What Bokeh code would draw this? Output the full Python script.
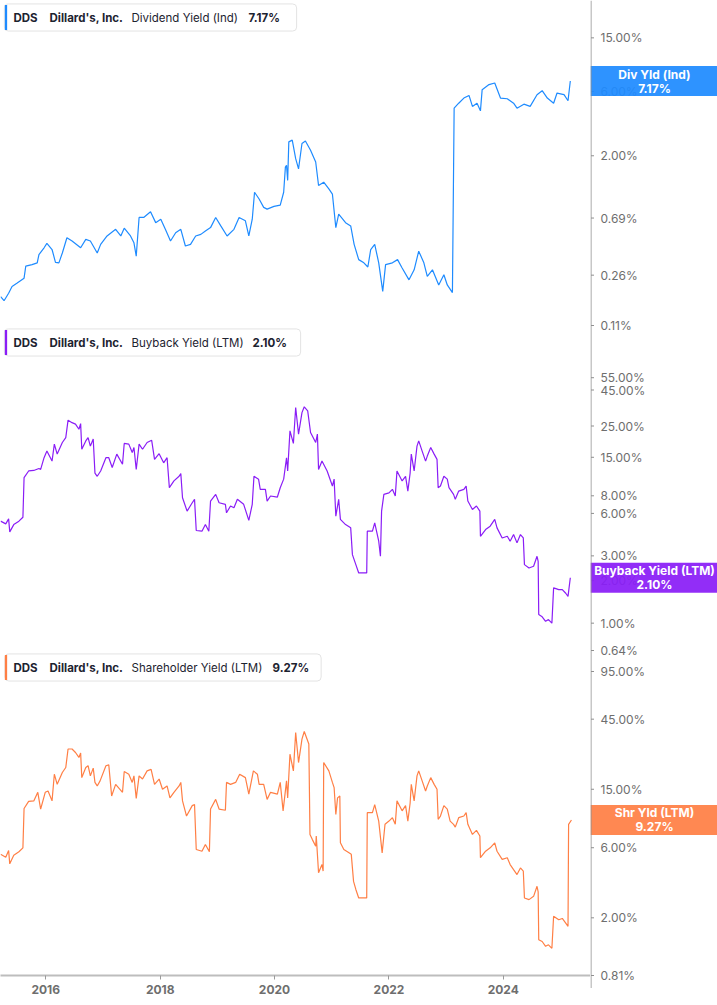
import math
import pandas as pd
from bokeh.plotting import figure
from bokeh.models import (Range1d, FixedTicker, Span, Label, DatetimeTickFormatter,
                          ColumnDataSource, LogScale)
from bokeh.core.properties import value
from bokeh.layouts import column, row
from bokeh.embed import file_html
from bokeh.resources import INLINE

# ---------------- data (decimal years, percent values) ----------------
div_years = [
    2015.21, 2015.27, 2015.35, 2015.41, 2015.50, 2015.62, 2015.65, 2015.76, 2015.85, 2015.88,
    2015.97, 2016.02, 2016.11, 2016.17, 2016.23, 2016.29, 2016.37, 2016.46, 2016.61, 2016.70,
    2016.78, 2016.90, 2016.96, 2017.07, 2017.22, 2017.31, 2017.37, 2017.48, 2017.54, 2017.58,
    2017.63, 2017.71, 2017.83, 2017.92, 2018.01, 2018.09, 2018.18, 2018.27, 2018.36, 2018.44,
    2018.53, 2018.62, 2018.71, 2018.79, 2018.88, 2018.97, 2019.06, 2019.17, 2019.29, 2019.38,
    2019.49, 2019.55, 2019.61, 2019.65, 2019.73, 2019.81, 2019.87, 2019.99, 2020.10, 2020.16,
    2020.19, 2020.21, 2020.23, 2020.25, 2020.31, 2020.37, 2020.42, 2020.48, 2020.54, 2020.63,
    2020.72, 2020.77, 2020.86, 2020.95, 2021.01, 2021.07, 2021.12, 2021.24, 2021.33, 2021.39,
    2021.47, 2021.56, 2021.63, 2021.68, 2021.75, 2021.82, 2021.89, 2021.94, 2022.06, 2022.15,
    2022.23, 2022.35, 2022.44, 2022.52, 2022.61, 2022.67, 2022.76, 2022.87, 2022.96, 2023.02,
    2023.11, 2023.14, 2023.22, 2023.31, 2023.40, 2023.46, 2023.54, 2023.60, 2023.63, 2023.75,
    2023.85, 2023.95, 2024.07, 2024.18, 2024.24, 2024.36, 2024.47, 2024.59, 2024.68, 2024.77,
    2024.88, 2024.94, 2025.06, 2025.13, 2025.17]
div_values = [
    0.180, 0.168, 0.191, 0.214, 0.227, 0.247, 0.303, 0.311, 0.321, 0.370,
    0.415, 0.447, 0.403, 0.324, 0.321, 0.380, 0.493, 0.466, 0.415, 0.479,
    0.466, 0.380, 0.440, 0.508, 0.569, 0.508, 0.580, 0.508, 0.452, 0.360,
    0.697, 0.697, 0.768, 0.638, 0.676, 0.569, 0.466, 0.537, 0.569, 0.428,
    0.440, 0.508, 0.522, 0.553, 0.586, 0.697, 0.603, 0.508, 0.569, 0.697,
    0.658, 0.508, 0.676, 1.072, 0.955, 0.828, 0.804, 0.842, 0.860, 1.072,
    1.648, 1.698, 1.313, 2.536, 2.613, 1.902, 1.600, 2.466, 2.571, 2.199,
    1.798, 1.203, 1.274, 1.135, 1.040, 0.586, 0.737, 0.638, 0.603, 0.440,
    0.339, 0.321, 0.299, 0.403, 0.440, 0.321, 0.197, 0.311, 0.321, 0.339,
    0.294, 0.240, 0.285, 0.392, 0.321, 0.255, 0.285, 0.220, 0.262, 0.220,
    0.193, 4.51, 4.91, 5.36, 5.61, 4.65, 4.91, 4.31, 6.19, 6.75,
    6.94, 5.36, 5.30, 4.91, 4.51, 4.83, 4.65, 5.68, 6.08, 5.36,
    4.91, 5.84, 5.68, 5.12, 7.17]

bb_years = [
    2015.21, 2015.30, 2015.35, 2015.37, 2015.44, 2015.53, 2015.60, 2015.62, 2015.70, 2015.79,
    2015.88, 2015.91, 2015.97, 2016.02, 2016.11, 2016.15, 2016.20, 2016.29, 2016.35, 2016.39,
    2016.46, 2016.52, 2016.58, 2016.61, 2016.63, 2016.70, 2016.74, 2016.78, 2016.83, 2016.86,
    2016.90, 2016.96, 2017.05, 2017.10, 2017.16, 2017.24, 2017.34, 2017.37, 2017.45, 2017.51,
    2017.54, 2017.58, 2017.63, 2017.69, 2017.77, 2017.85, 2017.90, 2017.98, 2018.06, 2018.12,
    2018.16, 2018.24, 2018.33, 2018.36, 2018.39, 2018.47, 2018.56, 2018.60, 2018.63, 2018.73,
    2018.79, 2018.85, 2018.88, 2018.97, 2019.03, 2019.14, 2019.16, 2019.23, 2019.29, 2019.35,
    2019.46, 2019.55, 2019.61, 2019.64, 2019.72, 2019.75, 2019.84, 2019.87, 2019.93, 2020.05,
    2020.10, 2020.16, 2020.21, 2020.23, 2020.27, 2020.33, 2020.37, 2020.42, 2020.48, 2020.52,
    2020.58, 2020.63, 2020.72, 2020.75, 2020.77, 2020.83, 2020.92, 2021.01, 2021.04, 2021.07,
    2021.12, 2021.15, 2021.24, 2021.33, 2021.36, 2021.42, 2021.47, 2021.61, 2021.62, 2021.71,
    2021.75, 2021.82, 2021.85, 2021.87, 2021.91, 2022.00, 2022.06, 2022.11, 2022.14, 2022.23,
    2022.29, 2022.33, 2022.37, 2022.39, 2022.44, 2022.49, 2022.52, 2022.58, 2022.64, 2022.67,
    2022.73, 2022.79, 2022.84, 2022.86, 2022.90, 2022.96, 2023.02, 2023.05, 2023.13, 2023.16,
    2023.22, 2023.31, 2023.35, 2023.38, 2023.46, 2023.53, 2023.59, 2023.60, 2023.69, 2023.77,
    2023.85, 2023.89, 2023.98, 2024.07, 2024.12, 2024.18, 2024.24, 2024.30, 2024.35, 2024.37,
    2024.45, 2024.53, 2024.59, 2024.61, 2024.62, 2024.68, 2024.74, 2024.79, 2024.85, 2024.88,
    2024.97, 2025.03, 2025.09, 2025.13, 2025.17]
bb_values = [
    5.29, 5.06, 5.49, 4.44, 5.00, 5.29, 5.64, 10.75, 12.0, 12.1,
    12.5, 12.3, 14.9, 16.6, 14.1, 18.6, 15.8, 19.1, 20.7, 27.5,
    26.4, 25.8, 23.7, 26.0, 17.1, 19.6, 20.7, 18.0, 20.2, 11.6,
    11.0, 12.0, 14.9, 14.9, 12.7, 15.8, 13.4, 18.8, 18.6, 16.2,
    17.6, 12.3, 18.6, 17.1, 19.1, 19.8, 14.5, 15.9, 13.7, 14.9,
    9.13, 10.2, 11.0, 11.5, 7.75, 6.23, 7.14, 7.55, 4.54, 4.49,
    5.00, 4.49, 7.34, 8.19, 7.14, 6.96, 6.06, 6.77, 6.58, 7.55,
    6.96, 5.35, 6.96, 11.0, 10.5, 8.89, 8.89, 7.34, 7.97, 7.84,
    9.13, 10.5, 14.9, 12.0, 23.1, 18.8, 33.8, 21.9, 31.1, 34.2,
    32.0, 22.5, 19.1, 21.9, 12.3, 14.1, 12.0, 9.38, 10.5, 5.74,
    7.55, 5.44, 5.00, 4.74, 3.06, 2.60, 2.27, 2.27, 4.49, 4.49,
    5.14, 3.81, 2.98, 6.23, 8.19, 8.40, 8.89, 7.97, 12.0, 10.2,
    11.0, 8.64, 11.6, 15.8, 12.0, 18.0, 19.6, 16.6, 14.1, 15.3,
    17.6, 15.8, 14.5, 9.13, 9.38, 11.0, 10.5, 9.13, 8.19, 7.55,
    8.64, 8.89, 9.38, 7.34, 6.40, 6.77, 6.23, 4.13, 4.61, 4.87,
    5.44, 4.74, 4.02, 4.13, 3.81, 4.25, 3.71, 4.25, 4.02, 2.60,
    2.46, 2.53, 2.98, 2.74, 1.15, 1.11, 1.03, 1.06, 1.00, 1.78,
    1.73, 1.73, 1.63, 1.55, 2.10]

sh_years = [
    2015.21, 2015.30, 2015.35, 2015.37, 2015.44, 2015.53, 2015.60, 2015.62, 2015.70, 2015.79,
    2015.86, 2015.91, 2015.99, 2016.04, 2016.11, 2016.15, 2016.20, 2016.29, 2016.35, 2016.39,
    2016.46, 2016.52, 2016.58, 2016.61, 2016.63, 2016.70, 2016.74, 2016.78, 2016.83, 2016.86,
    2016.90, 2016.95, 2017.05, 2017.10, 2017.15, 2017.22, 2017.34, 2017.37, 2017.45, 2017.51,
    2017.54, 2017.58, 2017.63, 2017.69, 2017.77, 2017.84, 2017.90, 2017.98, 2018.04, 2018.12,
    2018.17, 2018.24, 2018.33, 2018.36, 2018.39, 2018.46, 2018.56, 2018.60, 2018.63, 2018.73,
    2018.79, 2018.86, 2018.88, 2018.97, 2019.03, 2019.14, 2019.16, 2019.23, 2019.32, 2019.39,
    2019.49, 2019.55, 2019.63, 2019.70, 2019.73, 2019.81, 2019.87, 2019.93, 2020.05, 2020.10,
    2020.15, 2020.21, 2020.23, 2020.27, 2020.33, 2020.37, 2020.42, 2020.48, 2020.52, 2020.60,
    2020.62, 2020.66, 2020.72, 2020.73, 2020.77, 2020.83, 2020.85, 2020.86, 2020.95, 2021.01,
    2021.04, 2021.07, 2021.10, 2021.14, 2021.15, 2021.21, 2021.30, 2021.34, 2021.38, 2021.42,
    2021.47, 2021.61, 2021.62, 2021.71, 2021.75, 2021.82, 2021.88, 2021.93, 2022.00, 2022.06,
    2022.11, 2022.14, 2022.23, 2022.29, 2022.33, 2022.37, 2022.39, 2022.44, 2022.49, 2022.52,
    2022.58, 2022.64, 2022.67, 2022.73, 2022.79, 2022.84, 2022.86, 2022.90, 2022.96, 2023.02,
    2023.07, 2023.13, 2023.16, 2023.22, 2023.31, 2023.35, 2023.38, 2023.46, 2023.53, 2023.59,
    2023.60, 2023.69, 2023.77, 2023.85, 2023.89, 2023.98, 2024.07, 2024.12, 2024.18, 2024.24,
    2024.30, 2024.35, 2024.37, 2024.45, 2024.53, 2024.59, 2024.61, 2024.62, 2024.68, 2024.74,
    2024.79, 2024.85, 2024.88, 2024.97, 2025.03, 2025.09, 2025.13, 2025.14, 2025.19]
sh_values = [
    5.41, 5.17, 5.75, 4.66, 5.34, 5.63, 5.99, 11.1, 12.4, 12.5,
    14.3, 11.0, 14.3, 14.6, 12.5, 19.0, 16.2, 19.5, 21.1, 28.2,
    28.2, 26.7, 24.7, 26.5, 18.0, 21.1, 21.7, 18.5, 20.9, 16.7,
    15.8, 17.1, 21.7, 22.0, 13.5, 16.2, 14.3, 19.8, 19.0, 16.7,
    18.5, 13.0, 18.5, 17.6, 20.0, 20.5, 16.2, 17.6, 15.0, 15.8,
    13.1, 14.3, 15.8, 16.7, 12.5, 9.86, 11.6, 11.8, 5.84, 5.68,
    6.32, 5.63, 11.0, 12.8, 11.0, 10.8, 16.7, 16.2, 16.7, 19.0,
    18.0, 13.9, 20.0, 19.0, 16.2, 16.2, 12.8, 14.3, 13.9, 16.7,
    10.7, 17.1, 13.1, 26.0, 20.0, 36.5, 22.8, 32.9, 37.1, 30.5,
    7.39, 6.84, 6.15, 7.21, 4.05, 4.61, 4.16, 22.8, 20.0, 16.7,
    15.4, 10.1, 13.1, 13.5, 6.48, 5.84, 5.54, 5.41, 3.54, 3.12,
    2.73, 2.73, 10.4, 10.4, 11.8, 9.11, 5.54, 8.66, 9.11, 9.61,
    8.66, 12.5, 10.7, 11.6, 9.11, 12.1, 16.2, 12.5, 18.5, 20.0,
    17.1, 14.6, 15.8, 18.0, 16.2, 15.0, 9.37, 9.86, 11.6, 11.0,
    9.11, 8.66, 8.29, 9.61, 9.86, 10.4, 8.66, 7.39, 7.88, 7.21,
    5.13, 5.68, 5.99, 6.48, 5.68, 5.00, 5.13, 4.61, 4.26, 3.94,
    4.37, 4.16, 2.73, 2.66, 2.80, 3.28, 3.00, 1.42, 1.38, 1.28,
    1.31, 1.24, 2.05, 1.94, 1.98, 1.84, 1.75, 8.66, 9.27]

div_ticks = [0.11, 0.26, 0.69, 2.0, 6.0, 15.0]
bb_ticks = [0.64, 1.0, 2.0, 3.0, 6.0, 8.0, 15.0, 25.0, 45.0, 55.0]
sh_ticks = [0.81, 2.0, 6.0, 15.0, 45.0, 95.0]
year_ticks = [2016, 2018, 2020, 2022, 2024]

div_range = (0.11, 28.4)
bb_range = (0.64, 129.0)
sh_range = (0.81, 132.0)
x_span = (2015.208, 2025.523)

ticker_name = "DDS"
company = "Dillard's, Inc."

# ---------------- styling ----------------
FONT = "Inter"
FRAME_W = 590
SIDE_W = 127
FRAME_H = 325
SIDE_H = 988
AXIS_GRAY = "#8f8f8f"
LABEL_GRAY = "#6e6e6e"


def to_dates(years):
    out = []
    for y in years:
        base = int(y)
        out.append(pd.Timestamp(base, 1, 1) + pd.Timedelta(days=(y - base) * 365.25))
    return out


xr = Range1d(start=to_dates([x_span[0]])[0], end=to_dates([x_span[1]])[0])

# one tall strip on the right carries the three value axes and the value flags
side = figure(frame_width=SIDE_W, frame_height=SIDE_H, x_range=Range1d(0, SIDE_W),
              y_range=Range1d(0, 1), x_axis_location=None, y_axis_location=None,
              output_backend="svg", toolbar_location=None, min_border=0,
              outline_line_color=None, background_fill_color="white",
              border_fill_color="white")
side.xgrid.visible = False
side.ygrid.visible = False
side.add_layout(Span(location=0.5, dimension="height", line_color=AXIS_GRAY, line_width=1))


def panel(idx, years, values, color, yrange, ticks, metric, short, last_txt, legend_specs,
          with_xaxis):
    assert len(years) == len(values)
    yr = Range1d(*yrange)
    p = figure(frame_width=FRAME_W, frame_height=FRAME_H, x_range=xr, y_range=yr,
               y_axis_type="log", x_axis_type="datetime",
               x_axis_location="below" if with_xaxis else None,
               y_axis_location=None, output_backend="svg", toolbar_location=None,
               min_border=0, outline_line_color=None,
               background_fill_color="white", border_fill_color="white")
    p.xgrid.visible = False
    p.ygrid.visible = False

    src = ColumnDataSource(dict(x=to_dates(years), y=values))
    p.line("x", "y", source=src, line_color=color, line_width=1.2)

    if with_xaxis:
        xa = p.xaxis[0]
        xa.ticker = FixedTicker(ticks=[pd.Timestamp(y, 1, 1).value // 10**6 for y in year_ticks],
                                minor_ticks=[])
        xa.formatter = DatetimeTickFormatter(years="%Y", months="%Y", days="%Y",
                                             hours="%Y", minutes="%Y")
        xa.axis_line_color = "#bdbdbd"
        xa.axis_line_width = 2
        xa.major_tick_line_color = "#9a9a9a"
        xa.major_tick_out = 4
        xa.major_tick_in = 0
        xa.minor_tick_line_color = None
        xa.major_label_text_color = LABEL_GRAY
        xa.major_label_text_font = FONT
        xa.major_label_text_font_size = "12px"
        xa.major_label_text_font_style = "bold"
        xa.major_label_standoff = 5
    else:
        p.add_layout(Span(location=yrange[0], dimension="width", line_color="#c9c9c9",
                          line_width=1))

    # legend box top-left
    box_w, val_x = legend_specs
    p.add_layout(Label(x=4 + box_w / 2, x_units="screen", y=yrange[1], y_units="data",
                       y_offset=-17, text=" ", text_font_size="1px",
                       text_align="center", text_baseline="middle",
                       background_fill_color="white", border_line_color="#e3e3e3",
                       border_line_width=1, border_radius=4, padding=(box_w // 2, 13)))
    p.add_layout(Label(x=5.5, x_units="screen", y=yrange[1], y_units="data",
                       y_offset=-17, text=" ", text_font_size="1px",
                       text_align="center", text_baseline="middle",
                       background_fill_color=color, padding=(1, 12)))
    pieces = [(ticker_name, 13, "bold"), (company, 49, "bold"), (metric, 131, "normal"),
              (last_txt, val_x, "bold")]
    for txt, px, style in pieces:
        p.add_layout(Label(x=px, x_units="screen", y=yrange[1], y_units="data",
                           y_offset=-17, text=txt, text_align="left",
                           text_baseline="middle", text_color="#1d2330", text_font=FONT,
                           text_font_size="11.5px", text_font_style=style))

    # ---- value axis for this panel in the right strip ----
    lo, hi = yrange
    top = idx * FRAME_H
    k = FRAME_H / math.log10(hi / lo)          # pixels per decade
    name = f"y{idx}"
    side.extra_y_ranges[name] = Range1d(lo / 10 ** ((SIDE_H - top - FRAME_H) / k),
                                        hi * 10 ** (top / k))
    side.extra_y_scales[name] = LogScale()
    n = len(ticks)
    side.segment(x0=[0.5] * n, y0=ticks, x1=[3.5] * n, y1=ticks, y_range_name=name,
                 line_color=AXIS_GRAY, line_width=1)
    side.text(x=[10] * n, y=ticks, text=[f"{t:.2f}%" for t in ticks], y_range_name=name,
              text_baseline="middle", text_align="left", text_font=value(FONT),
              text_font_size="12px", text_color=LABEL_GRAY)
    side.rect(x=[SIDE_W / 2], y=[values[-1]], width=[SIDE_W], height=[30],
              height_units="screen", y_range_name=name, fill_color=color,
              fill_alpha=0.93, line_color=None)
    side.text(x=[SIDE_W / 2 + 0.5], y=[values[-1]], text=[short], y_offset=-7,
              y_range_name=name, text_baseline="middle", text_align="center",
              text_font=value(FONT), text_font_size="12px", text_font_style="bold",
              text_color="white")
    side.text(x=[SIDE_W / 2 + 0.5], y=[values[-1]], text=[last_txt], y_offset=7,
              y_range_name=name, text_baseline="middle", text_align="center",
              text_font=value(FONT), text_font_size="12px", text_font_style="bold",
              text_color="white")
    return p


p1 = panel(0, div_years, div_values, "#1E8BFF", div_range, div_ticks,
           "Dividend Yield (Ind)", "Div Yld (Ind)", "7.17%", (292, 248), False)
p2 = panel(1, bb_years, bb_values, "#8A1DF6", bb_range, bb_ticks,
           "Buyback Yield (LTM)", "Buyback Yield (LTM)", "2.10%", (296, 252), False)
p3 = panel(2, sh_years, sh_values, "#FF7F45", sh_range, sh_ticks,
           "Shareholder Yield (LTM)", "Shr Yld (LTM)", "9.27%", (317, 272), True)

layout = row(column(p1, p2, p3, spacing=0), side, spacing=0)

with open("out.html", "w") as f:
    f.write(file_html(layout, INLINE))
